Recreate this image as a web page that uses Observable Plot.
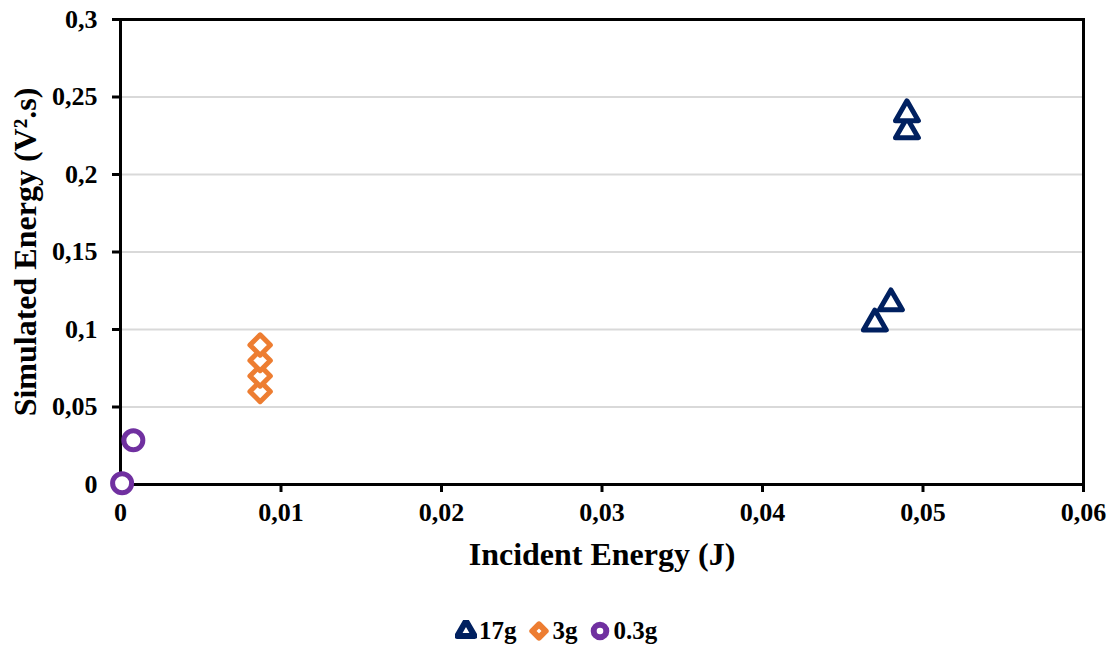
<!DOCTYPE html>
<html>
<head>
<meta charset="utf-8">
<script src="https://cdn.jsdelivr.net/npm/d3@7"></script>
<script src="https://cdn.jsdelivr.net/npm/@observablehq/plot@0.6"></script>
<style>
  html, body { margin: 0; padding: 0; background: white; }
  #chart { width: 1112px; height: 605px; }
  .legend { display: flex; justify-content: center; align-items: center; gap: 12px;
    font-family: "Liberation Serif", "Times New Roman", serif; font-weight: bold; font-size: 25px;
    color: black; margin-top: 12px; margin-left: 0px; line-height: 28px; height: 28px; }
  .legend span.item { display: flex; align-items: center; gap: 2px; }
</style>
</head>
<body>
<div id="chart"></div>
<script>
// Data
const g17x = [0.047, 0.048, 0.049, 0.049];
const g17y = [0.104, 0.117, 0.228, 0.239];
const g3x = [0.0087, 0.0087, 0.0087, 0.0087];
const g3y = [0.06, 0.07, 0.08, 0.09];
const g03x = [0.0001, 0.0008];
const g03y = [0.0008, 0.0285];
const seriesNames = ["17g", "3g", "0.3g"];
const seriesColors = ["#002060", "#ED7D31", "#7030A0"];
const xTicks = [0, 0.01, 0.02, 0.03, 0.04, 0.05, 0.06];
const yTicks = [0, 0.05, 0.1, 0.15, 0.2, 0.25, 0.3];
const xTitle = "Incident Energy (J)";
const yTitle = "Simulated Energy (V².s)";

const fmt = d => String(d).replace(".", ",");
const toRows = (xs, ys) => xs.map((x, i) => ({x, y: ys[i]}));
const font = '"Liberation Serif", "Times New Roman", serif';

const chart = Plot.plot({
  width: 1112,
  height: 605,
  marginTop: 19,
  marginLeft: 120,
  marginRight: 29,
  marginBottom: 121,
  x: {domain: [0, 0.06]},
  y: {domain: [0, 0.3]},
  style: {fontFamily: font, fontSize: "26px", fontWeight: "bold", color: "black", background: "white"},
  marks: [
    Plot.gridY(yTicks.slice(1), {stroke: "#d9d9d9", strokeOpacity: 1, strokeWidth: 2}),
    Plot.axisY(yTicks, {tickFormat: () => "", tickSize: 8, label: null, strokeWidth: 3}),
    Plot.axisX(xTicks, {tickFormat: () => "", tickSize: 8, label: null, strokeWidth: 3}),
    Plot.frame({stroke: "black", strokeWidth: 3}),
    Plot.text(yTicks, {y: d => d, frameAnchor: "left", dx: -23, textAnchor: "end", text: fmt, fontSize: 26, fontWeight: "bold"}),
    Plot.text(xTicks, {x: d => d, frameAnchor: "bottom", dy: 36, textAnchor: "middle", text: fmt, fontSize: 26, fontWeight: "bold"}),
    Plot.text([xTitle], {frameAnchor: "bottom", dy: 80, fontSize: 32, fontWeight: "bold"}),
    Plot.text([yTitle], {frameAnchor: "left", dx: -95, rotate: -90, textAnchor: "middle", fontSize: 32, fontWeight: "bold"}),
    Plot.dot(toRows(g03x, g03y), {x: "x", y: "y", symbol: "circle", r: 9.5, stroke: seriesColors[2], fill: "white", strokeWidth: 5}),
    Plot.dot(toRows(g3x, g3y), {x: "x", y: "y", symbol: "diamond2", r: 9.2, stroke: seriesColors[1], fill: "white", strokeWidth: 5, strokeLinejoin: "round"}),
    Plot.dot(toRows(g17x, g17y), {x: "x", y: "y", symbol: "triangle", r: 8.5, stroke: seriesColors[0], fill: "white", strokeWidth: 5, strokeLinejoin: "round"})
  ]
});
document.getElementById("chart").appendChild(chart);

// Legend
const symbols = [d3.symbolTriangle, d3.symbolDiamond2, d3.symbolCircle];
const sizes = [6.4, 6.0, 6.3].map(r => Math.PI * r * r);
const legend = document.createElement("div");
legend.className = "legend";
seriesNames.forEach((name, i) => {
  const item = document.createElement("span");
  item.className = "item";
  const path = d3.symbol(symbols[i], sizes[i])();
  item.innerHTML = `<svg width="22" height="22" viewBox="-11 -11 22 22"><path d="${path}" fill="white" stroke="${seriesColors[i]}" stroke-width="6" stroke-linejoin="round"/></svg><span>${name}</span>`;
  legend.appendChild(item);
});
document.body.appendChild(legend);
</script>
</body>
</html>
